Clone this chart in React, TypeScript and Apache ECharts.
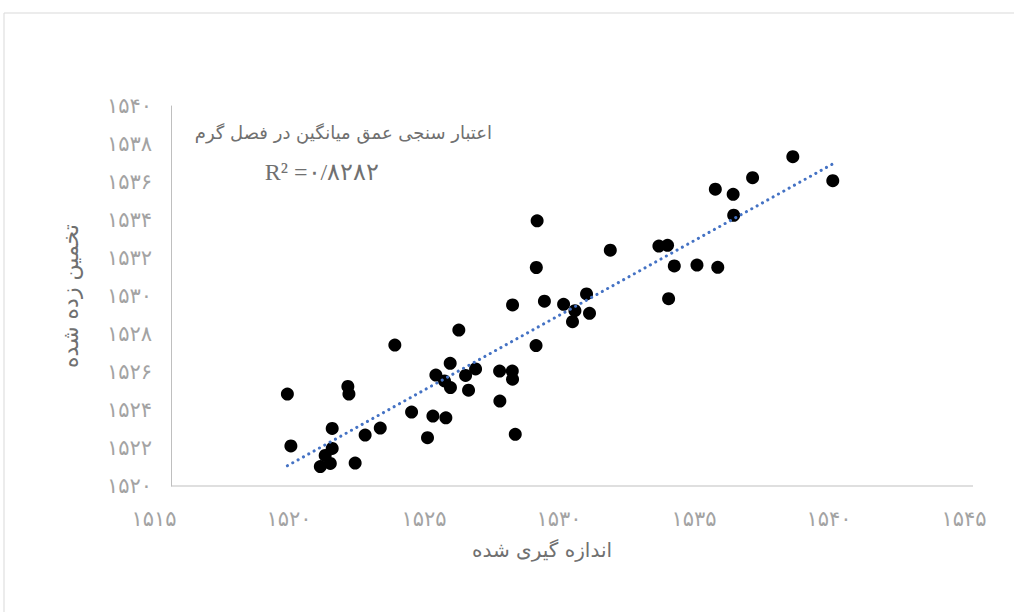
import React, { useEffect, useRef } from "react";
import * as echarts from "echarts";

const xMeasured = [
  1519.94, 1520.07, 1522.18, 1522.22, 1521.16, 1521.53, 1521.34, 1521.6, 1521.6, 1522.45,
  1522.82, 1523.38, 1523.92, 1524.54, 1525.13, 1525.33, 1525.81, 1525.44, 1525.76, 1525.97,
  1525.98, 1526.29, 1526.54, 1526.65, 1526.91, 1527.8, 1528.27, 1528.28, 1527.81, 1528.38,
  1528.28, 1529.16, 1529.19, 1529.15, 1529.46, 1530.17, 1530.59, 1530.5, 1531.02, 1531.13,
  1531.9, 1533.7, 1534.02, 1534.27, 1535.11, 1535.88, 1534.06, 1535.79, 1536.45, 1537.17,
  1538.66, 1540.14, 1536.47,
];
const yEstimated = [
  1524.84, 1522.11, 1525.24, 1524.84, 1521.02, 1521.19, 1521.61, 1521.98, 1523.03, 1521.21,
  1522.68, 1523.05, 1527.42, 1523.89, 1522.54, 1523.68, 1523.59, 1525.84, 1525.53, 1526.46,
  1525.18, 1528.21, 1525.82, 1525.04, 1526.16, 1526.05, 1526.05, 1525.62, 1524.47, 1522.72,
  1529.53, 1531.5, 1533.96, 1527.39, 1529.73, 1529.56, 1529.23, 1528.65, 1530.11, 1529.09,
  1532.41, 1532.63, 1532.67, 1531.58, 1531.63, 1531.51, 1529.86, 1535.62, 1535.35, 1536.23,
  1537.33, 1536.07, 1534.25,
];

const xTicks = { min: 1515, max: 1545, interval: 5 };
const yTicks = { min: 1520, max: 1540, interval: 2 };

const titleText = "اعتبار سنجی عمق میانگین در فصل گرم";
const r2Text = "R² =۰/۸۲۸۲";
const xName = "اندازه گیری شده";
const yName = "تخمین زده شده";

const faDigits = "۰۱۲۳۴۵۶۷۸۹";
const toFa = (v: number) => String(v).replace(/[0-9]/g, (d) => faDigits[Number(d)]);

const FONT = "'DejaVu Sans', 'Noto Sans', sans-serif";
const GREY = "#a3a3a3";
const TEXT = "#707070";

export default function App() {
  const ref = useRef<HTMLDivElement>(null);
  useEffect(() => {
    if (!ref.current) return;
    const chart = echarts.init(ref.current, null, { renderer: "svg" });

    const n = xMeasured.length;
    const mx = xMeasured.reduce((a, b) => a + b, 0) / n;
    const my = yEstimated.reduce((a, b) => a + b, 0) / n;
    let sxy = 0;
    let sxx = 0;
    for (let i = 0; i < n; i++) {
      sxy += (xMeasured[i] - mx) * (yEstimated[i] - my);
      sxx += (xMeasured[i] - mx) ** 2;
    }
    const slope = sxy / sxx;
    const icpt = my - slope * mx;
    const x0 = Math.min(...xMeasured);
    const x1 = Math.max(...xMeasured);
    const trend = [
      [x0, icpt + slope * x0],
      [x1, icpt + slope * x1],
    ];

    chart.setOption({
      animation: false,
      backgroundColor: "#ffffff",
      textStyle: { fontFamily: FONT },
      grid: { left: 154, right: 50, top: 106, bottom: 126, containLabel: false },
      xAxis: {
        type: "value",
        min: xTicks.min,
        max: xTicks.max,
        interval: xTicks.interval,
        axisLine: { show: false },
        axisTick: { show: false },
        splitLine: { show: false },
        axisLabel: {
          color: GREY,
          fontSize: 21,
          fontFamily: FONT,
          margin: 22,
          formatter: (v: number) => toFa(v),
        },
        name: xName,
        nameLocation: "middle",
        nameGap: 54,
        nameTextStyle: { color: TEXT, fontSize: 20, fontFamily: FONT, padding: [0, 34, 0, 0] },
      },
      yAxis: {
        type: "value",
        min: yTicks.min,
        max: yTicks.max,
        interval: yTicks.interval,
        offset: -17,
        axisLine: { show: true, lineStyle: { color: "#bfbfbf", width: 1 } },
        axisTick: { show: false },
        splitLine: { show: false },
        axisLabel: {
          color: GREY,
          fontSize: 21,
          fontFamily: FONT,
          margin: 19,
          formatter: (v: number) => toFa(v),
        },
        name: yName,
        nameLocation: "middle",
        nameGap: 90,
        nameTextStyle: { color: TEXT, fontSize: 22, fontFamily: FONT },
      },
      graphic: [
        {
          type: "rect",
          shape: { x: 4, y: 13, width: 1030, height: 620 },
          style: { fill: "none", stroke: "#d9d9d9", lineWidth: 1 },
          silent: true,
        },
        {
          type: "line",
          shape: { x1: 171, y1: 486, x2: 973, y2: 486 },
          style: { stroke: "#bfbfbf", lineWidth: 1 },
          silent: true,
        },
        {
          type: "text",
          x: 492,
          y: 132,
          style: {
            text: titleText,
            fill: TEXT,
            fontSize: 18,
            fontFamily: FONT,
            align: "right",
            verticalAlign: "middle",
          },
        },
        {
          type: "text",
          x: 322,
          y: 172,
          style: {
            text: r2Text,
            fill: TEXT,
            fontSize: 24,
            fontFamily: "'Liberation Serif', 'DejaVu Serif', serif",
            align: "center",
            verticalAlign: "middle",
          },
        },
      ],
      series: [
        {
          type: "scatter",
          data: xMeasured.map((x, i) => [x, yEstimated[i]]),
          symbol: "circle",
          symbolSize: 13,
          itemStyle: { color: "#000000", opacity: 1 },
          z: 3,
        },
        {
          type: "line",
          data: trend,
          symbol: "none",
          lineStyle: { color: "#4472C4", width: 3, type: [0.1, 6], cap: "round" },
          z: 4,
        },
      ],
    });
    return () => chart.dispose();
  }, []);
  return (
    <div
      ref={ref}
      style={{ position: "absolute", left: 0, top: 0, width: 1014, height: 612 }}
    />
  );
}
